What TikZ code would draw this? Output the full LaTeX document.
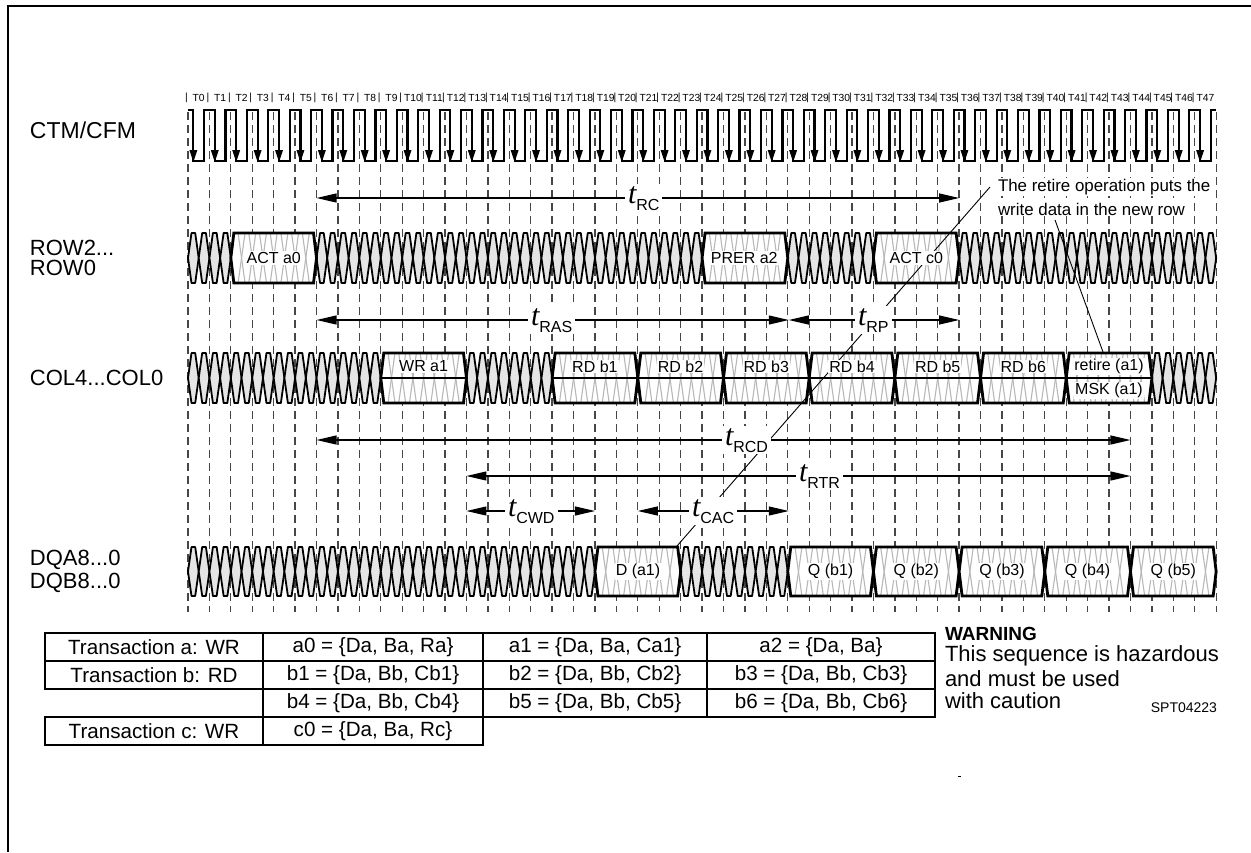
\documentclass[tikz,border=0pt]{standalone}
\usepackage{fontspec}
\setmainfont{Liberation Sans}
\newfontfamily\tfont{Liberation Serif}
\usetikzlibrary{arrows.meta}
\newcommand\fs[1]{\fontsize{#1}{#1}\selectfont}
\newcommand\tmark[1]{{\tfont\itshape\fs{30}t}\raisebox{-7pt}{\fs{16}#1}}
\tikzset{
  every node/.style={inner sep=0pt, outer sep=0pt},
  dashline/.style={black!72, line width=1.3pt, dash pattern=on 8pt off 5pt},
  clk/.style={line width=2.2pt, line join=miter},
  diam/.style={fill=black!10, draw=black, line width=1.8pt, line join=round},
  xgray/.style={draw=black!28, line width=1.1pt},
  boxline/.style={draw=black, line width=2.8pt, line join=miter},
  tarrow/.style={line width=1.1pt, {Triangle[length=20pt,width=9pt]}-{Triangle[length=20pt,width=9pt]}},
  tlab/.style={anchor=base west, fill=white, inner xsep=3pt, inner ysep=2pt},
  boxtxt/.style={font=\fs{16}, fill=white, inner sep=1pt},
  sig/.style={anchor=west, font=\fs{22}},
  cell/.style={font=\fs{20.6}},
  tbl/.style={line width=2.3pt, line cap=rect},
  note/.style={anchor=west, font=\fs{16.9}, fill=white, inner sep=1pt},
  anno/.style={line width=0.9pt},
  warn/.style={anchor=west, font=\fs{22}},
}
\newcommand\drawbus[2]{%
  \pgfmathsetmacro\ym{(#1+#2)/2}%
  \foreach \j in {0,...,95}{%
    \pgfmathsetmacro\xa{188+\j*10.71}%
    \pgfmathsetmacro\xb{\xa+10.71}%
    \filldraw[diam] (\xa,\ym) -- (\xa+3.5,#1) -- (\xb-3.5,#1) -- (\xb,\ym) -- (\xb-3.5,#2) -- (\xa+3.5,#2) -- cycle;
  }%
}
\newcommand\busbox[5]{%
  \pgfmathsetmacro\ym{(#1+#2)/2}%
  \pgfmathsetmacro\xa{188+#3*21.42}%
  \pgfmathsetmacro\xb{188+#4*21.42}%
  \fill[white] (\xa,\ym) -- (\xa+3,#1) -- (\xb-3,#1) -- (\xb,\ym) -- (\xb-3,#2) -- (\xa+3,#2) -- cycle;
  \begin{scope}
    \clip (\xa,\ym) -- (\xa+3,#1) -- (\xb-3,#1) -- (\xb,\ym) -- (\xb-3,#2) -- (\xa+3,#2) -- cycle;
    \pgfmathtruncatemacro\ja{2*#3}%
    \pgfmathtruncatemacro\jb{2*#4-1}%
    \foreach \j in {\ja,...,\jb}{%
      \pgfmathsetmacro\xc{188+\j*10.71}%
      \pgfmathsetmacro\xd{\xc+10.71}%
      \draw[xgray] (\xc,\ym) -- (\xc+3.5,#1) -- (\xd-3.5,#1) -- (\xd,\ym) -- (\xd-3.5,#2) -- (\xc+3.5,#2) -- cycle;
    }%
  \end{scope}
  \ifnum#5=1 \draw[boxline] (\xa,\ym) -- (\xb,\ym);\fi
  \draw[boxline] (\xa,\ym) -- (\xa+3,#1) -- (\xb-3,#1) -- (\xb,\ym) -- (\xb-3,#2) -- (\xa+3,#2) -- cycle;
}
\begin{document}
\begin{tikzpicture}[x=1pt,y=-1pt]
\useasboundingbox (0,0) rectangle (1251,852);
\fill[white] (0,0) rectangle (1251,852);
% frame
\draw[line width=2pt] (1251,5.5) -- (7.5,5.5) -- (7.5,852);
% T labels
\foreach \k in {0,...,47}{
  \node[font=\fs{10.3}] (bar\k) at ({186.5+\k*21.42},98) {|};
  \node[font=\fs{10.3}] (T\k) at ({198.7+\k*21.42},98) {T\k};
}
% dashed grid
\foreach \k in {0,...,48}{
  \draw[dashline] ({188+\k*21.42},112) -- ({188+\k*21.42},612);
}
% clock
\draw[clk] (188,110) foreach \k in {0,...,47}{ -- ({193.355+\k*21.42},110) -- ({193.355+\k*21.42},161) -- ({204.065+\k*21.42},161) -- ({204.065+\k*21.42},110)} -- (1216,110);
\foreach \k in {0,...,47}{
  \fill ({193.355+\k*21.42},162) -- ++(-4,-12) -- ++(8,0) -- cycle;
}
% signal names
\node[sig, font=\fs{23}] (ctm) at (30,130) {CTM/CFM};
\node[sig] (row2) at (30,248) {ROW2...};
\node[sig] (row0) at (30,268) {ROW0};
\node[sig] (col) at (30,378) {COL4...COL0};
\node[sig] (dqa) at (30,560) {DQA8...0};
\node[sig] (dqb) at (30,583) {DQB8...0};
% buses
\drawbus{233}{283}
\drawbus{353}{403}
\drawbus{547}{596}
\busbox{233}{283}{2}{6}{0}
\busbox{233}{283}{24}{28}{0}
\busbox{233}{283}{32}{36}{0}
\busbox{353}{403}{9}{13}{1}
\busbox{353}{403}{17}{21}{1}
\busbox{353}{403}{21}{25}{1}
\busbox{353}{403}{25}{29}{1}
\busbox{353}{403}{29}{33}{1}
\busbox{353}{403}{33}{37}{1}
\busbox{353}{403}{37}{41}{1}
\busbox{353}{403}{41}{45}{1}
\busbox{547}{596}{19}{23}{0}
\busbox{547}{596}{28}{32}{0}
\busbox{547}{596}{32}{36}{0}
\busbox{547}{596}{36}{40}{0}
\busbox{547}{596}{40}{44}{0}
\busbox{547}{596}{44}{48}{0}
% annotation lines
\coordinate (an1a) at (990,187);
\coordinate (an1b) at (677,546);
\coordinate (an2a) at (1055,220);
\coordinate (an2b) at (1103,352);
\draw[anno] (an1a) -- (an1b);
\draw[anno] (an2a) -- (an2b);
% box texts
\node[boxtxt] (actA0) at (273.7,258) {ACT a0};
\node[boxtxt] (prer) at (744.3,258) {PRER a2};
\node[boxtxt] (actC0) at (916.3,258) {ACT c0};
\node[boxtxt] (wra1) at (423.6,366.5) {WR a1};
\node[boxtxt] (rdb1) at (594.9,366.5) {RD b1};
\node[boxtxt] (rdb2) at (680.6,366.5) {RD b2};
\node[boxtxt] (rdb3) at (766.3,366.5) {RD b3};
\node[boxtxt] (rdb4) at (852.0,366.5) {RD b4};
\node[boxtxt] (rdb5) at (937.7,366.5) {RD b5};
\node[boxtxt] (rdb6) at (1023.3,366.5) {RD b6};
\node[boxtxt] (ret) at (1109.0,366.5) {retire (a1)};
\node[boxtxt] (msk) at (1109.0,390.5) {MSK (a1)};
\node[boxtxt] (da1) at (638.0,571.5) {D (a1)};
\node[boxtxt] (qb1) at (830.6,571.5) {Q (b1)};
\node[boxtxt] (qb2) at (916.3,571.5) {Q (b2)};
\node[boxtxt] (qb3) at (1002.0,571.5) {Q (b3)};
\node[boxtxt] (qb4) at (1087.6,571.5) {Q (b4)};
\node[boxtxt] (qb5) at (1173.3,571.5) {Q (b5)};
% timing arrows
\coordinate (rcL) at (316.52,198); \coordinate (rcR) at (959.12,198);
\coordinate (rasL) at (316.52,320); \coordinate (rasR) at (788.76,320);
\coordinate (rpL) at (788.76,320); \coordinate (rpR) at (959.12,320);
\coordinate (rcdL) at (316.52,440); \coordinate (rcdR) at (1130.48,440);
\coordinate (rtrL) at (466.46,476); \coordinate (rtrR) at (1130.48,476);
\coordinate (cwdL) at (466.46,511); \coordinate (cwdR) at (594.98,511);
\coordinate (cacL) at (637.82,511); \coordinate (cacR) at (788.76,511);
\draw[tarrow] (rcL) -- (rcR);
\draw[tarrow] (rasL) -- (rasR);
\draw[tarrow] (rpL) -- (rpR);
\draw[tarrow] (rcdL) -- (rcdR);
\draw[tarrow] (rtrL) -- (rtrR);
\draw[tarrow] (cwdL) -- (cwdR);
\draw[tarrow] (cacL) -- (cacR);
\node[tlab] (lRC) at (625,203) {\tmark{RC}};
\node[tlab] (lRAS) at (528,325) {\tmark{RAS}};
\node[tlab] (lRP) at (855,325) {\tmark{RP}};
\node[tlab] (lRCD) at (722,445) {\tmark{RCD}};
\node[tlab] (lRTR) at (796,481) {\tmark{RTR}};
\node[tlab] (lCWD) at (505,516) {\tmark{CWD}};
\node[tlab] (lCAC) at (689,516) {\tmark{CAC}};
% note
\node[note] (note1) at (997,187) {The retire operation puts the};
\node[note] (note2) at (997,209) {write data in the new row};
% table
\draw[tbl] (45,633) rectangle (935,689);
\draw[tbl] (45,717) -- (935,717);
\draw[tbl] (935,689) -- (935,717);
\draw[tbl] (45,717) rectangle (483,745);
\draw[tbl] (45,661) -- (935,661);
\draw[tbl] (263,633) -- (263,745);
\draw[tbl] (483,633) -- (483,745);
\draw[tbl] (707,633) -- (707,717);
\node[cell] (c11) at (154,647) {Transaction a: WR};
\node[cell] (c12) at (373,647) {a0 = \{Da, Ba, Ra\}};
\node[cell] (c13) at (595,647) {a1 = \{Da, Ba, Ca1\}};
\node[cell] (c14) at (821,647) {a2 = \{Da, Ba\}};
\node[cell] (c21) at (154,675) {Transaction b: RD};
\node[cell] (c22) at (373,675) {b1 = \{Da, Bb, Cb1\}};
\node[cell] (c23) at (595,675) {b2 = \{Da, Bb, Cb2\}};
\node[cell] (c24) at (821,675) {b3 = \{Da, Bb, Cb3\}};
\node[cell] (c32) at (373,703) {b4 = \{Da, Bb, Cb4\}};
\node[cell] (c33) at (595,703) {b5 = \{Da, Bb, Cb5\}};
\node[cell] (c34) at (821,703) {b6 = \{Da, Bb, Cb6\}};
\node[cell] (c41) at (154,731) {Transaction c: WR};
\node[cell] (c42) at (373,731) {c0 = \{Da, Ba, Rc\}};
% warning
\node[warn, font=\fs{19}\bfseries] (w0) at (945,634) {WARNING};
\node[warn] (w1) at (945,656) {This sequence is hazardous};
\node[warn] (w2) at (945,679) {and must be used};
\node[warn] (w3) at (945,701) {with caution};
\node[anchor=east, font=\fs{14}] (spt) at (1217,708) {SPT04223};
\draw[line width=1pt] (958,776) -- (961,776);
\end{tikzpicture}
\end{document}
